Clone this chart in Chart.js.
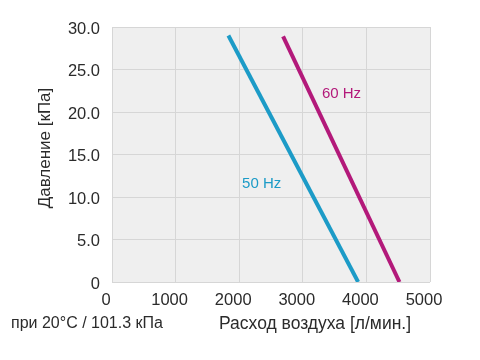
<!DOCTYPE html>
<html>
<head>
<meta charset="utf-8">
<script src="https://cdn.jsdelivr.net/npm/chart.js@4/dist/chart.umd.min.js"></script>
<style>
  html, body { margin: 0; padding: 0; background: #ffffff; }
  #wrap { width: 480px; height: 360px; }
</style>
</head>
<body>
<div id="wrap"><canvas id="chart" width="480" height="360"></canvas></div>
<script>
const flow50 = [1830, 3870];
const pressure50 = [29, 0];
const flow60 = [2690, 4520];
const pressure60 = [28.9, 0];
const lineLabels = ["50 Hz", "60 Hz"];
const yTitle = "Давление [кПа]";
const xTitle = "Расход воздуха [л/мин.]";
const footnote = "при 20°C / 101.3 кПа";

const FONT = "'Liberation Sans', Arial, Helvetica, sans-serif";
const BLUE = "#1c9bc7";
const MAGENTA = "#b3197a";
const TEXT = "#2b2b2b";

function toPoints(xs, ys) {
  return xs.map((x, i) => ({ x, y: ys[i] }));
}

const plotBackground = {
  id: "plotBackground",
  beforeDraw(chart) {
    const { ctx, chartArea } = chart;
    ctx.save();
    ctx.fillStyle = "#efefef";
    ctx.fillRect(chartArea.left, chartArea.top, chartArea.right - chartArea.left, chartArea.bottom - chartArea.top);
    ctx.restore();
  },
};

const textLayer = {
  id: "textLayer",
  afterDraw(chart) {
    const { ctx, scales } = chart;
    ctx.save();
    ctx.font = `15px ${FONT}`;
    ctx.textBaseline = "middle";
    ctx.textAlign = "left";

    // line labels, placed in data space
    ctx.fillStyle = BLUE;
    ctx.fillText(lineLabels[0], scales.x.getPixelForValue(2045), scales.y.getPixelForValue(11.5));
    ctx.fillStyle = MAGENTA;
    ctx.fillText(lineLabels[1], scales.x.getPixelForValue(3300), scales.y.getPixelForValue(22.1));

    ctx.fillStyle = TEXT;
    ctx.font = `16px ${FONT}`;
    ctx.fillText(footnote, 11, 324);
    ctx.font = `17.5px ${FONT}`;
    ctx.fillText(xTitle, 219, 324);

    ctx.translate(45, 148);
    ctx.rotate(-Math.PI / 2);
    ctx.textAlign = "center";
    ctx.font = `17px ${FONT}`;
    ctx.fillText(yTitle, 0, 0);
    ctx.restore();
  },
};

new Chart(document.getElementById("chart"), {
  type: "scatter",
  data: {
    datasets: [
      {
        label: lineLabels[0],
        data: toPoints(flow50, pressure50),
        showLine: true,
        borderColor: BLUE,
        borderWidth: 4,
        pointRadius: 0,
      },
      {
        label: lineLabels[1],
        data: toPoints(flow60, pressure60),
        showLine: true,
        borderColor: MAGENTA,
        borderWidth: 4,
        pointRadius: 0,
      },
    ],
  },
  options: {
    responsive: false,
    animation: false,
    layout: { padding: { top: 27, right: 50, left: 0, bottom: 0 } },
    plugins: {
      legend: { display: false },
      tooltip: { enabled: false },
    },
    scales: {
      x: {
        type: "linear",
        min: 0,
        max: 5000,
        afterFit(axis) { axis.height = 78; },
        border: { display: false },
        grid: { color: "#d6d6d6", drawTicks: false },
        ticks: {
          stepSize: 1000,
          padding: 9,
          labelOffset: -6,
          color: TEXT,
          font: { family: FONT, size: 16.5 },
          maxRotation: 0,
          callback: (v) => String(v),
        },
      },
      y: {
        type: "linear",
        min: 0,
        max: 30,
        afterFit(axis) { axis.width = 112; },
        border: { display: false },
        grid: { color: "#d6d6d6", drawTicks: false },
        ticks: {
          stepSize: 5,
          padding: 12,
          labelOffset: 2,
          color: TEXT,
          font: { family: FONT, size: 16.5 },
          callback: (v) => (v === 0 ? "0" : v.toFixed(1)),
        },
      },
    },
  },
  plugins: [plotBackground, textLayer],
});
</script>
</body>
</html>
